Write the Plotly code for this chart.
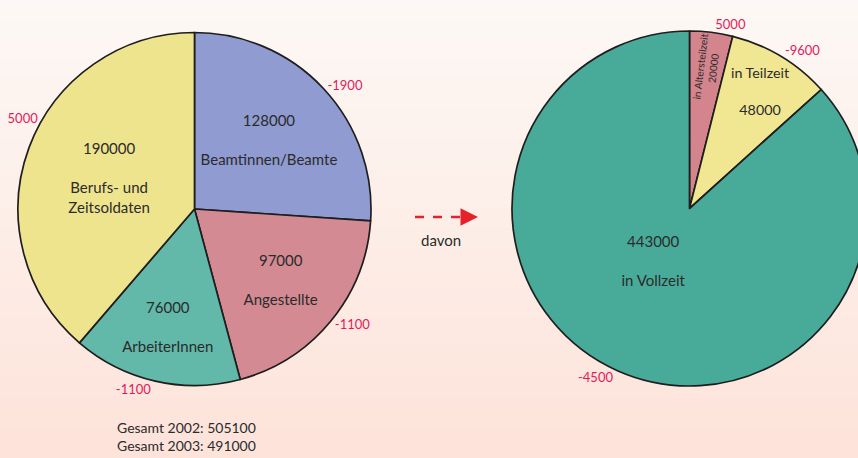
import plotly.graph_objects as go

# ---- data ----
left_labels = ["Beamtinnen/Beamte", "Angestellte", "ArbeiterInnen", "Berufs- und<br>Zeitsoldaten"]
left_values = [128000, 97000, 76000, 190000]
left_changes = ["-1900", "-1100", "-1100", "5000"]

right_labels = ["in Altersteilzeit", "in Teilzeit", "in Vollzeit"]
right_values = [20000, 48000, 443000]
right_changes = ["5000", "-9600", "-4500"]

total_lines = ["Gesamt 2002: 505100", "Gesamt 2003: 491000"]

# ---- style ----
W, H = 870, 458
FONT = "Lato"
TXT = "#2b2b2b"
RED = "#e5195a"
left_colors = ["#8f9bd1", "#d48a93", "#62b9a9", "#efe48e"]
right_colors = ["#d3848d", "#f1e792", "#48ab99"]
CLEAR = "rgba(0,0,0,0)"

def px_dom(x0, x1, y0, y1):
    return dict(x=[x0 / W, x1 / W], y=[1 - y1 / H, 1 - y0 / H])

left_dom = px_dom(18, 371, 32, 386)
right_dom = px_dom(512, 867, 31, 386)

left_text = [f"{v}<br> <br>{l}" for v, l in zip(left_values, left_labels)]
right_text_h = ["", f"{right_labels[1]}<br> <br>{right_values[1]}",
                f"{right_values[2]}<br> <br>{right_labels[2]}<br> <br> <br> "]
right_text_r = [f"{right_labels[0]}<br>{right_values[0]}", "", ""]

fig = go.Figure()

def base_pie(values, dom, rotation=0, **kw):
    return go.Pie(values=values, sort=False, direction="clockwise", rotation=rotation,
                  domain=dom, showlegend=False, hoverinfo="skip", automargin=False, **kw)

def overlay_text(values, dom, text, pos, size, color, orient="horizontal", rotation=0):
    fig.add_trace(base_pie(
        values, dom, rotation=rotation, text=text, textinfo="text", textposition=pos,
        insidetextorientation=orient,
        marker=dict(colors=[CLEAR] * len(values), line=dict(width=0)),
        textfont=dict(family=FONT, size=size, color=color),
    ))

def main_pie(values, colors, text, dom):
    fig.add_trace(base_pie(
        values, dom, text=text, textinfo="text", textposition="inside",
        insidetextorientation="horizontal",
        marker=dict(colors=colors, line=dict(color="#1e1e1e", width=1.7)),
        textfont=dict(family=FONT, size=15, color=TXT),
    ))

# left pie
main_pie(left_values, left_colors, left_text, left_dom)
overlay_text(left_values, left_dom, left_changes[:3] + [""], "outside", 13, RED)
overlay_text(left_values, left_dom, ["", "", "", left_changes[3]], "outside", 13, RED, rotation=10)

# right pie
main_pie(right_values, right_colors, right_text_h, right_dom)
overlay_text(right_values, right_dom, right_text_r, "inside", 12, TXT, orient="radial")
overlay_text(right_values, right_dom, right_changes, "outside", 13, RED)

# background gradient strips
shapes = []
N = 46
top = (253, 248, 245)
bot = (253, 227, 218)
for i in range(N):
    t = i / (N - 1)
    c = tuple(round(top[k] + (bot[k] - top[k]) * t) for k in range(3))
    shapes.append(dict(type="rect", xref="paper", yref="paper",
                       x0=0, x1=1, y0=1 - (i + 1) / N, y1=1 - i / N + 0.002,
                       fillcolor=f"rgb{c}", line=dict(width=0), layer="below"))
# dashed arrow shaft
shapes.append(dict(type="line", xref="paper", yref="paper",
                   x0=415 / W, x1=462 / W, y0=1 - 217 / H, y1=1 - 217 / H,
                   line=dict(color="#e8202a", width=2.5, dash="dash")))

annotations = [
    dict(x=478 / W, y=1 - 217 / H, xref="paper", yref="paper", ax=-14, ay=0,
         showarrow=True, arrowhead=2, arrowsize=1.4, arrowwidth=2.5, arrowcolor="#e8202a", text=""),
    dict(x=441 / W, y=1 - 240 / H, xref="paper", yref="paper", showarrow=False,
         yanchor="middle", text="davon", font=dict(family=FONT, size=15, color=TXT)),
    dict(x=115 / W, y=1 - 417 / H, xref="paper", yref="paper", showarrow=False,
         xanchor="left", yanchor="top", align="left", text="<br>".join(total_lines),
         font=dict(family=FONT, size=14, color=TXT)),
]

fig.update_layout(
    width=W, height=H, margin=dict(l=0, r=0, t=0, b=0, autoexpand=False),
    paper_bgcolor="#fdf2ee", plot_bgcolor="rgba(0,0,0,0)",
    shapes=shapes, annotations=annotations, showlegend=False,
    font=dict(family=FONT),
)

fig.write_html("out.html", config={"displayModeBar": False},
               post_script="document.body.style.margin='0';document.body.style.overflow='hidden';document.documentElement.style.overflow='hidden';")
